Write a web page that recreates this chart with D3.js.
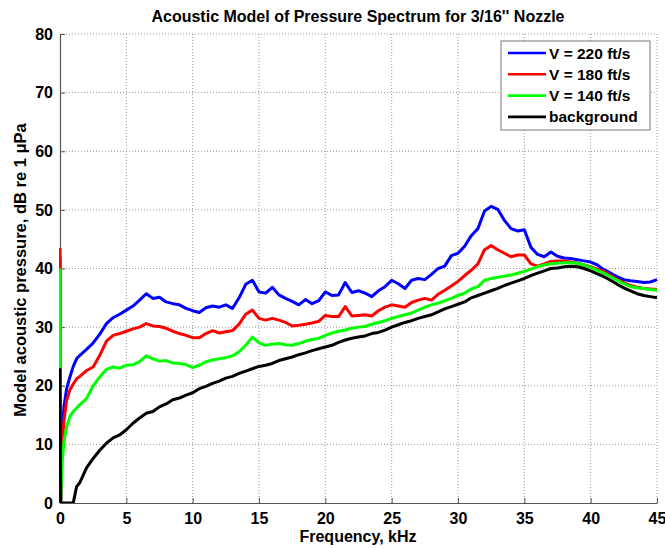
<!DOCTYPE html>
<html><head><meta charset="utf-8">
<script src="https://cdn.jsdelivr.net/npm/d3@7"></script>
<style>body{margin:0;background:#fff}svg{display:block}text{font-family:"Liberation Sans",Arial,sans-serif;font-weight:bold}</style>
</head><body><svg id="c" width="665" height="548"></svg>
<script>
const freq = [0,0.05,0.15,0.3,0.5,0.75,1,1.25,1.5,2,2.5,3,3.5,4,4.5,5,5.5,6,6.5,7,7.5,8,8.5,9,9.5,10,10.5,11,11.5,12,12.5,13,13.5,14,14.5,15,15.5,16,16.5,17,17.5,18,18.5,19,19.5,20,20.5,21,21.5,22,22.5,23,23.5,24,24.5,25,25.5,26,26.5,27,27.5,28,28.5,29,29.5,30,30.5,31,31.5,32,32.5,33,33.5,34,34.5,35,35.5,36,36.5,37,37.5,38,38.5,39,39.5,40,40.5,41,41.5,42,42.5,43,43.5,44,44.5,45];
const v220 = [42,0,12,16.5,19.5,21.5,23.3,24.6,25.2,
 26.2,27.3,28.8,30.6,31.6,32.2,32.9,33.6,34.6,35.7,
 34.9,35.1,34.3,34.0,33.8,33.2,32.8,32.5,33.3,33.6,
 33.4,33.8,33.2,35.0,37.3,38.0,36.0,35.8,36.8,35.5,
 34.9,34.4,33.8,34.7,34.0,34.5,36.0,35.4,35.5,37.6,
 35.9,36.2,35.8,35.2,36.2,36.9,38.0,37.4,36.6,38.0,
 38.3,38.1,39.0,40.0,40.4,42.2,
 42.6,43.8,45.6,46.8,49.8,50.6,50.1,48.2,46.8,46.4,
 46.6,43.6,42.4,42.0,42.8,42.1,41.8,41.7,41.5,41.3,
 41.1,40.6,39.8,39.2,38.6,38.1,37.9,37.8,37.6,37.7,38.1];
const v180 = [43.5,0,9.5,14,17.5,19.3,20.3,21.2,21.6,
 22.6,23.2,25.2,27.6,28.6,28.9,29.3,29.7,30.0,30.6,
 30.2,30.1,29.8,29.3,28.9,28.6,28.2,28.2,28.9,29.4,
 29.0,29.2,29.4,30.5,32.2,32.9,31.5,31.2,31.5,31.2,
 30.8,30.2,30.3,30.5,30.7,31.0,32.0,31.8,31.8,33.5,
 31.9,32.0,32.1,31.9,32.8,33.4,33.8,33.6,33.4,34.2,
 34.6,34.9,34.6,35.6,36.3,37.0,
 37.8,38.8,39.7,40.8,43.2,43.9,43.2,42.6,42.0,42.3,
 42.3,40.8,40.4,40.8,41.2,41.3,41.3,41.1,40.9,40.6,
 40.3,39.9,39.5,38.8,38.1,37.6,37.1,36.8,36.6,36.5,36.4];
const v140 = [40,0,6.5,10.5,13,14.8,15.6,16.2,16.8,
 17.8,20.0,21.5,22.8,23.2,23.0,23.5,23.6,24.1,25.1,
 24.6,24.2,24.3,23.9,23.8,23.6,23.1,23.5,24.1,24.4,
 24.6,24.8,25.1,25.8,26.9,28.3,27.3,26.9,27.1,27.2,
 27.0,26.9,27.2,27.6,27.9,28.1,28.6,29.0,29.3,29.5,
 29.8,30.0,
 30.1,30.5,30.8,31.1,31.5,31.8,32.1,32.4,32.9,33.4,
 33.8,34.1,34.5,34.9,35.4,35.8,36.5,36.9,38.0,38.3,
 38.5,38.7,38.9,39.2,39.5,39.9,40.3,40.6,40.8,40.9,
 41.0,41.0,40.9,40.6,40.2,39.7,39.2,38.6,38.0,37.4,
 36.9,36.7,36.6,36.4,36.3];
const vbg = [23,0,0,0,0,0,0,2.8,3.5,
 6.0,7.6,9.0,10.2,11.1,11.6,12.5,13.6,14.5,15.3,
 15.6,16.4,16.9,17.6,17.9,18.4,18.8,19.5,19.9,20.4,
 20.8,21.3,21.6,22.1,22.5,22.9,23.3,23.5,23.8,24.3,
 24.6,24.9,25.3,25.6,26.0,26.3,26.6,26.9,27.4,27.8,
 28.1,28.3,28.5,28.9,29.1,29.5,30.0,30.4,30.8,31.1,
 31.5,31.8,32.1,32.6,33.1,33.5,33.9,34.3,35.0,35.4,
 35.8,36.2,36.6,37.1,37.5,37.9,38.3,38.8,39.2,39.6,
 40.0,40.1,40.3,40.4,40.3,40.0,39.6,39.1,38.6,38.0,
 37.3,36.7,36.2,35.7,35.4,35.2,35.0];
const seriesNames = ["V = 220 ft/s","V = 180 ft/s","V = 140 ft/s","background"];
const seriesColors = ["#0000ff","#ff0000","#00ff00","#000000"];
const xTicks = [0,5,10,15,20,25,30,35,40,45];
const yTicks = [0,10,20,30,40,50,60,70,80];

const svg = d3.select("#c");
const m = {l:60, r:657, t:34, b:503};
const x = d3.scaleLinear().domain([0,45]).range([m.l, m.r]);
const y = d3.scaleLinear().domain([0,80]).range([m.b, m.t]);

// grid
const g = svg.append("g");
g.selectAll(".gx").data(xTicks.slice(1)).enter().append("line")
 .attr("x1",d=>x(d)).attr("x2",d=>x(d)).attr("y1",m.t).attr("y2",m.b)
 .attr("stroke","#999").attr("stroke-width",1).attr("stroke-dasharray","1,2");
g.selectAll(".gy").data(yTicks.slice(1)).enter().append("line")
 .attr("x1",m.l).attr("x2",m.r).attr("y1",d=>y(d)).attr("y2",d=>y(d))
 .attr("stroke","#999").attr("stroke-width",1).attr("stroke-dasharray","1,2");

svg.append("defs").append("clipPath").attr("id","clip").append("rect")
 .attr("x",m.l-1).attr("y",m.t).attr("width",m.r-m.l+3).attr("height",m.b-m.t);

// axes
const xa = svg.append("g").attr("transform",`translate(0,${m.b})`)
 .call(d3.axisBottom(x).tickValues(xTicks).tickSizeInner(-5).tickSizeOuter(0).tickPadding(10));
const ya = svg.append("g").attr("transform",`translate(${m.l},0)`)
 .call(d3.axisLeft(y).tickValues(yTicks).tickSizeInner(-5).tickSizeOuter(0).tickPadding(7));
[xa,ya].forEach(a=>{a.select(".domain").attr("stroke","#555").attr("stroke-width",1.2);
 a.selectAll(".tick line").attr("stroke","#555");
 a.selectAll("text").attr("font-size",16).attr("fill","#000").attr("font-family",'"Liberation Sans",Arial,sans-serif').attr("font-weight","bold");});

const data = [v220,v180,v140,vbg];
const line = d3.line().x((d,i)=>x(freq[i])).y(d=>y(d));
svg.append("g").attr("clip-path","url(#clip)").selectAll("path").data(data).enter().append("path")
 .attr("d",d=>line(d)).attr("fill","none").attr("stroke",(d,i)=>seriesColors[i])
 .attr("stroke-width",3).attr("stroke-linejoin","round");

svg.append("text").attr("x",358).attr("y",22).attr("text-anchor","middle").attr("font-size",16).text("Acoustic Model of Pressure Spectrum for 3/16'' Nozzle");
svg.append("text").attr("x",358).attr("y",542).attr("text-anchor","middle").attr("font-size",16).text("Frequency, kHz");
svg.append("text").attr("transform","translate(26,270) rotate(-90)").attr("text-anchor","middle").attr("font-size",16.5).text("Model acoustic pressure, dB re 1 μPa");

// legend
const lg = svg.append("g");
lg.append("rect").attr("x",501).attr("y",41).attr("width",149).attr("height",89).attr("fill","#fff").attr("stroke","#777").attr("stroke-width",1);
seriesNames.forEach((n,i)=>{
 const yy = 53 + i*21.3;
 lg.append("line").attr("x1",508).attr("x2",546).attr("y1",yy).attr("y2",yy).attr("stroke",seriesColors[i]).attr("stroke-width",2.6);
 lg.append("text").attr("x",549).attr("y",yy+5.5).attr("font-size",15.5).text(n);
});
</script></body></html>
